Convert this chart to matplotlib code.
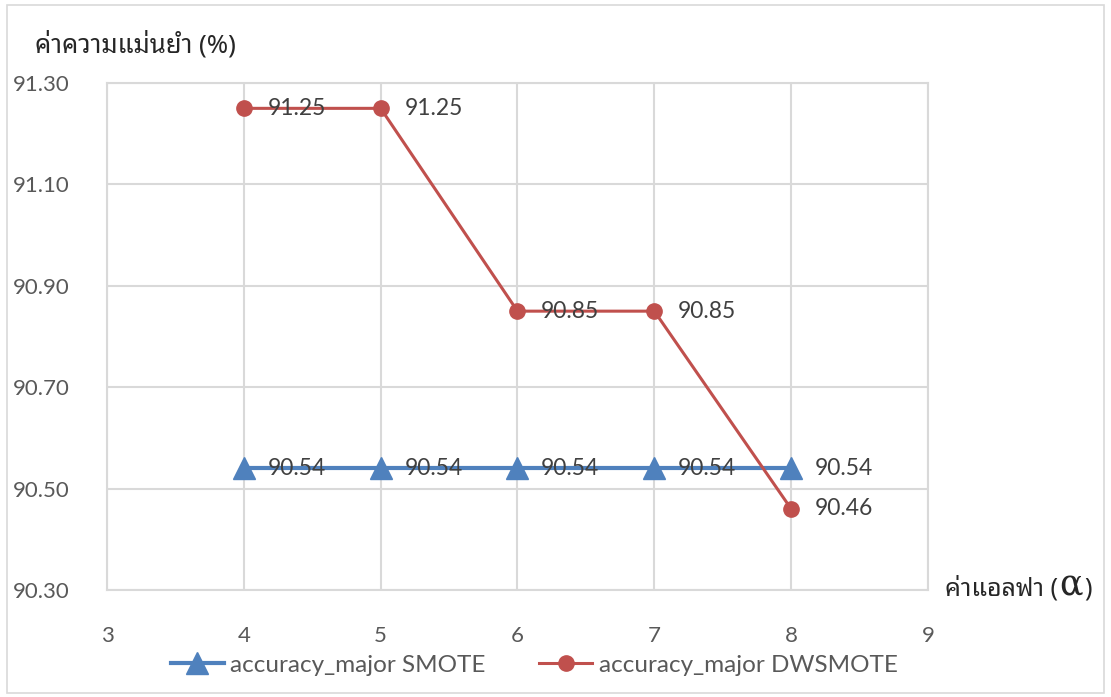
import matplotlib
matplotlib.use("Agg")
import matplotlib.pyplot as plt
from matplotlib.patches import Rectangle
from matplotlib.offsetbox import TextArea, HPacker, AnnotationBbox

# accuracy of the majority class for each alpha
alphas = [4, 5, 6, 7, 8]
acc_smote = [90.54, 90.54, 90.54, 90.54, 90.54]
acc_dwsmote = [91.25, 91.25, 90.85, 90.85, 90.46]
series_names = ["accuracy_major SMOTE", "accuracy_major DWSMOTE"]
y_ticks = [90.30, 90.50, 90.70, 90.90, 91.10, 91.30]
x_ticks = [3, 4, 5, 6, 7, 8, 9]
y_title = "ค่าความแม่นยำ (%)"
x_title = "ค่าแอลฟา ("

LATIN = ["Lato", "Noto Sans Thai Looped", "DejaVu Sans"]
THAI = ["Noto Sans Thai Looped", "Lato", "DejaVu Sans"]
BLUE = "#4f81bd"
RED = "#c0504d"
GRID = "#d9d9d9"
TICK_C = "#595959"
LABEL_C = "#404040"

plt.rcParams["font.family"] = LATIN

fig = plt.figure(figsize=(11.11, 6.97), dpi=100)
ax = fig.add_axes([107 / 1111, 1 - 590 / 697, (928 - 107) / 1111, (590 - 83) / 697])

ax.plot(alphas, acc_smote, color=BLUE, lw=3, marker="^", ms=16,
        label=series_names[0], zorder=3, clip_on=False)
ax.plot(alphas, acc_dwsmote, color=RED, lw=2.2, marker="o", ms=11,
        label=series_names[1], zorder=4, clip_on=False)

# value labels to the right of each point
for xs, ys in [(alphas, acc_smote), (alphas, acc_dwsmote)]:
    for x, y in zip(xs, ys):
        ax.annotate(f"{y:.2f}", (x, y), xytext=(17, 0), textcoords="offset points",
                    ha="left", va="center", fontsize=16.5, color=LABEL_C, zorder=6)

ax.set_xlim(3, 9)
ax.set_ylim(90.30, 91.30)
ax.set_xticks(x_ticks)
ax.set_yticks(y_ticks)
ax.set_yticklabels([f"{v:.2f}" for v in y_ticks])
ax.tick_params(length=0, labelsize=16, labelcolor=TICK_C)
ax.tick_params(axis="y", pad=27)
ax.tick_params(axis="x", pad=26)
ax.grid(True, color=GRID, lw=1.5)
ax.set_axisbelow(True)
for s in ax.spines.values():
    s.set_color(GRID)
    s.set_linewidth(1.5)

fig.text(35 / 1111, 1 - 45 / 697, y_title, family=THAI, fontsize=18.5,
         color="#262626", ha="left", va="center")

parts = HPacker(children=[
    TextArea(x_title, textprops=dict(family=THAI, fontsize=18, color="#262626")),
    TextArea("α", textprops=dict(family="DejaVu Serif", fontsize=25, color="#262626")),
    TextArea(")", textprops=dict(family=THAI, fontsize=18, color="#262626")),
], align="baseline", pad=0, sep=1)
fig.add_artist(AnnotationBbox(parts, (945 / 1111, 1 - 585 / 697), xycoords="figure fraction",
                              box_alignment=(0, 0.5), frameon=False, pad=0))

leg = fig.legend(loc="center", bbox_to_anchor=(534 / 1111, 1 - 665 / 697), ncol=2,
                 frameon=False, fontsize=17.5, handlelength=2.2, handletextpad=0.25,
                 columnspacing=2.2)
for t in leg.get_texts():
    t.set_color(TICK_C)

fig.add_artist(Rectangle((7 / 1111, 4 / 697), 1097 / 1111, 688 / 697, transform=fig.transFigure,
                         fill=False, edgecolor=GRID, lw=1.2))

fig.savefig("out.png", dpi=100, facecolor="white")
